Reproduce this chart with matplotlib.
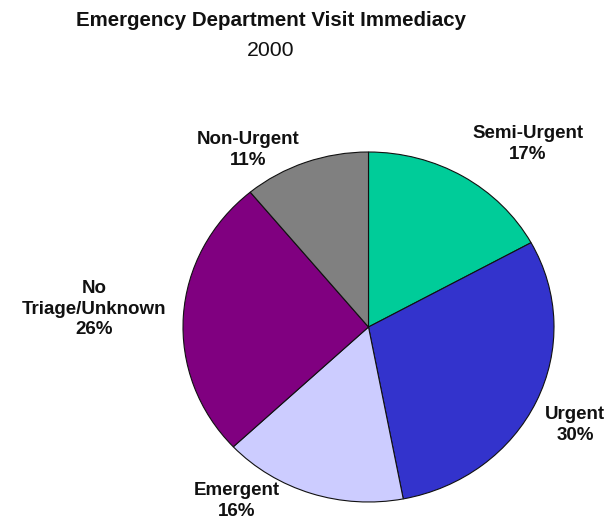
import matplotlib
matplotlib.use("Agg")
import matplotlib.pyplot as plt

categories = ["Semi-Urgent", "Urgent", "Emergent", "No\nTriage/Unknown", "Non-Urgent"]
values = [17, 30, 16, 26, 11]
colors = ["#00CC99", "#3333CC", "#CCCCFF", "#800080", "#808080"]

plt.rcParams['font.family'] = ['Liberation Sans', 'DejaVu Sans']

W, H = 610, 523
fig = plt.figure(figsize=(W / 100, H / 100), dpi=100)
fig.patch.set_facecolor("white")

# pie area in pixels
left, right, top, bottom = 183, 554, 152, 502
ax = fig.add_axes([left / W, (H - bottom) / H, (right - left) / W, (bottom - top) / H])
ax.pie(values, colors=colors, startangle=90, counterclock=False,
       wedgeprops=dict(edgecolor="#111111", linewidth=0.8))
ax.set_aspect("auto")
ax.set_xlim(-1, 1)
ax.set_ylim(-1, 1)
ax.axis("off")

cx, cy = (left + right) / 2, (top + bottom) / 2
rx, ry = (right - left) / 2, (bottom - top) / 2
label_px = [(528, 144), (575, 425), (237, 501), (94, 309), (248, 150)]
for cat, v, (px, py) in zip(categories, values, label_px):
    x = (px - cx) / rx
    y = (cy - py) / ry
    ax.text(x, y, f"{cat}\n{v}%", ha="center", va="center", fontsize=13.5,
            fontweight="bold", color="#111111", linespacing=1.3, clip_on=False)

fig.text(271 / W, 1 - 21 / H, "Emergency Department Visit Immediacy", ha="center",
         va="center", fontsize=14.8, fontweight="bold", color="#111111")
fig.text(271 / W, 1 - 50 / H, "2000", ha="center", va="center", fontsize=15.3,
         color="#111111")

fig.savefig("out.png", dpi=100, facecolor="white")
